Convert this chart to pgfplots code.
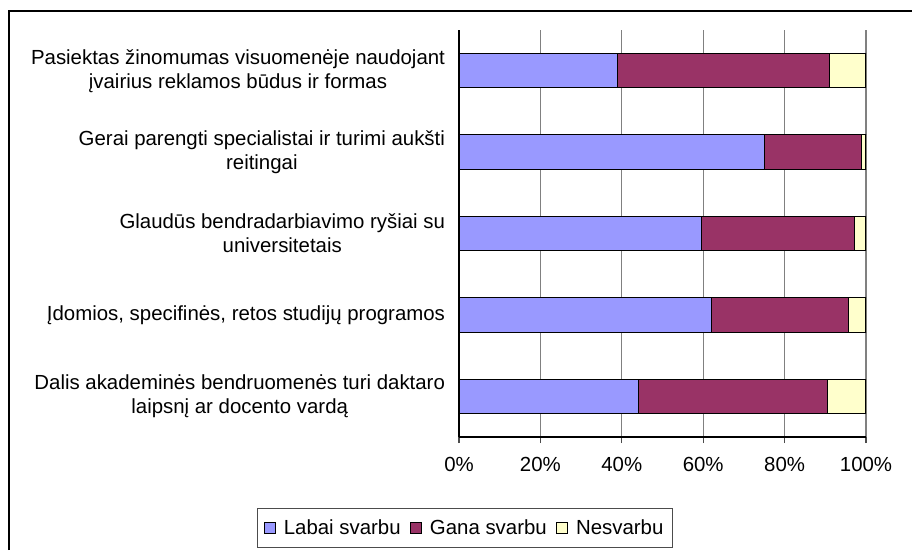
\documentclass[border=0pt]{standalone}
\usepackage{pgfplots}
\pgfplotsset{compat=1.18}
\usepackage{fontspec}
\setmainfont{Liberation Sans}
\definecolor{cblue}{HTML}{9999FF}
\definecolor{cmaroon}{HTML}{993366}
\definecolor{cyellow}{HTML}{FFFFCC}
\begin{document}
\begin{tikzpicture}
\path[use as bounding box] (0,0) rectangle (684pt,-412.5pt);
\draw[line width=1.5pt] (9*0.75pt,-412.5pt) -- (9*0.75pt,-11*0.75pt) -- (684pt,-11*0.75pt);
\begin{axis}[
  at={(459*0.75pt,-437*0.75pt)}, anchor=south west,
  scale only axis, width=305.25pt, height=305.25pt,
  xbar stacked, bar width=25.8pt,
  xmin=0, xmax=100, ymin=-0.5, ymax=4.5,
  axis x line*=bottom, axis y line*=left,
  axis line style={black, line width=0.8pt, -},
  xtick={0,20,40,60,80,100},
  xticklabels={0\%,20\%,40\%,60\%,80\%,100\%},
  xmajorgrids, major grid style={gray, line width=0.8pt},
  ytick={0,1,2,3,4},
  yticklabels={{Dalis akademinės bendruomenės turi daktaro\\laipsnį ar docento vardą},
               {Įdomios, specifinės, retos studijų programos},
               {Glaudūs bendradarbiavimo ryšiai su\\universitetais},
               {Gerai parengti specialistai ir turimi aukšti\\reitingai},
               {Pasiektas žinomumas visuomenėje naudojant\\įvairius reklamos būdus ir formas}},
  minor ytick={-0.5,0.5,1.5,2.5,3.5,4.5},
  tick align=outside,
  ytick style={draw=none},
  minor tick style={draw=black!70, line width=0.8pt},
  minor tick length=4.5pt,
  xtick style={draw=black!70, line width=0.8pt},
  major tick length=4.5pt,
  yticklabel style={align=center, font=\fontsize{15.3}{18}\selectfont, xshift=-2.5pt},
  xticklabel style={font=\fontsize{15.3}{18}\selectfont, yshift=-7pt},
  legend columns=3,
  legend style={at={(0.0147,-0.2236)}, anchor=center, draw=black!70, line width=0.8pt,
    font=\fontsize{15.3}{18}\selectfont, inner xsep=5pt, inner ysep=6pt,
    /tikz/every odd column/.append style={column sep=4pt},
    /tikz/every even column/.append style={column sep=5pt}},
  legend image code/.code={\draw[#1,draw=black,line width=0.6pt] (0pt,-4.2pt) rectangle (8.4pt,4.2pt);},
  every axis plot/.append style={draw=black, line width=0.8pt},
]
\addplot[fill=cblue] coordinates {(44.1,0) (62.1,1) (59.6,2) (75.0,3) (39.0,4)};
\addplot[fill=cmaroon] coordinates {(46.5,0) (33.6,1) (37.5,2) (24.0,3) (52.1,4)};
\addplot[fill=cyellow] coordinates {(9.4,0) (4.3,1) (2.9,2) (1.0,3) (8.9,4)};
\legend{Labai svarbu, Gana svarbu, Nesvarbu}
\end{axis}
\end{tikzpicture}
\end{document}
